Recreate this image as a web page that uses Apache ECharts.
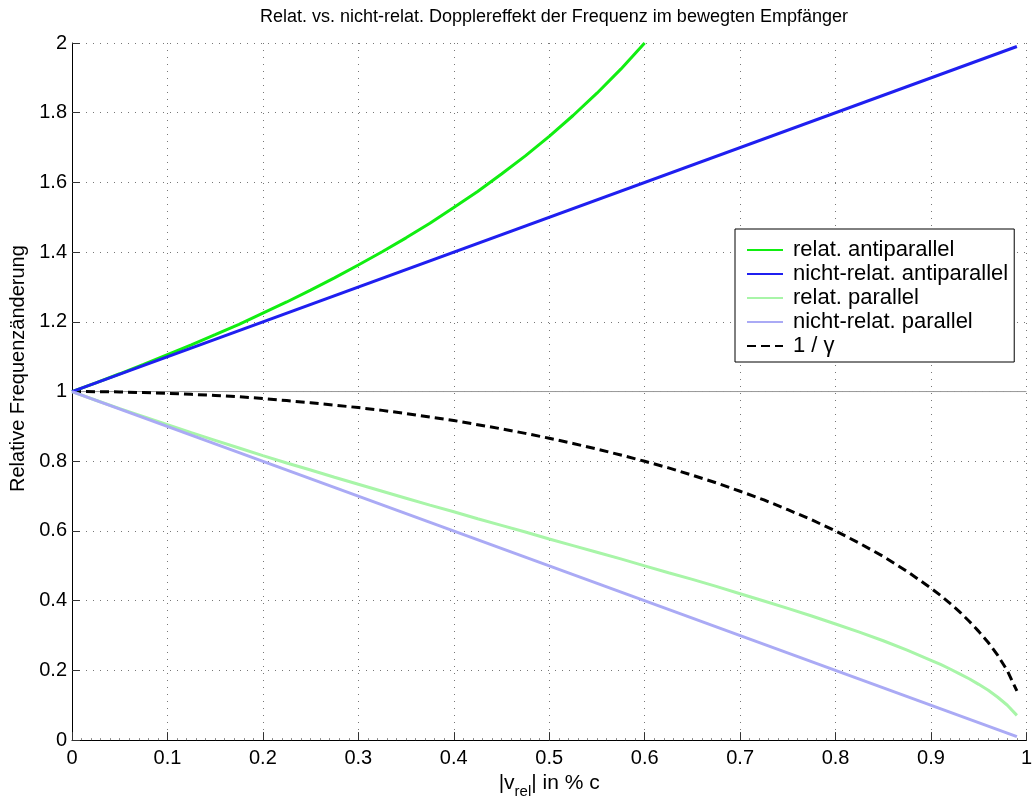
<!DOCTYPE html>
<html>
<head>
<meta charset="utf-8">
<script src="https://cdn.jsdelivr.net/npm/echarts@6/dist/echarts.min.js"></script>
<style>
  html, body { margin: 0; padding: 0; background: #fff; }
  #chart { width: 1035px; height: 804px; }
</style>
</head>
<body>
<div id="chart"></div>
<script>
// values (beta = |v_rel| / c)
const beta = [0, 0.025, 0.05, 0.075, 0.1, 0.125, 0.15, 0.175, 0.2, 0.225, 0.25, 0.275, 0.3,
  0.325, 0.35, 0.375, 0.4, 0.425, 0.45, 0.475, 0.5, 0.525, 0.55, 0.575, 0.6,
  0.625, 0.65, 0.675, 0.7, 0.725, 0.75, 0.775, 0.8, 0.825, 0.85, 0.875, 0.9,
  0.91, 0.92, 0.93, 0.94, 0.95, 0.96, 0.97, 0.98, 0.99];

const relAnti = [1, 1.025, 1.051, 1.078, 1.106, 1.134, 1.163, 1.193, 1.225, 1.257, 1.291, 1.326, 1.363,
  1.401, 1.441, 1.483, 1.528, 1.574, 1.624, 1.676, 1.732, 1.792, 1.856, 1.925, 2.0];

const relPar = [1, 0.975, 0.951, 0.928, 0.905, 0.882, 0.860, 0.838, 0.816, 0.795, 0.775, 0.754, 0.734,
  0.714, 0.694, 0.674, 0.655, 0.635, 0.616, 0.597, 0.577, 0.558, 0.539, 0.520, 0.5,
  0.480, 0.461, 0.441, 0.420, 0.399, 0.378, 0.356, 0.333, 0.310, 0.285, 0.258, 0.229,
  0.217, 0.204, 0.190, 0.176, 0.160, 0.143, 0.123, 0.100, 0.071];

const invGamma = [1, 0.9997, 0.999, 0.997, 0.995, 0.992, 0.989, 0.985, 0.980, 0.974, 0.968, 0.961, 0.954,
  0.946, 0.937, 0.927, 0.917, 0.905, 0.893, 0.880, 0.866, 0.851, 0.835, 0.818, 0.8,
  0.781, 0.760, 0.738, 0.714, 0.689, 0.661, 0.632, 0.6, 0.565, 0.527, 0.484, 0.436,
  0.415, 0.392, 0.368, 0.341, 0.312, 0.280, 0.243, 0.199, 0.141];

const betaNonRel = [0, 0.99];
const nonRelAnti = [1, 1.99];
const nonRelPar = [1, 0.01];

const refX = [0, 1];
const refY = [1, 1];

const xTicks = ['0', '0.1', '0.2', '0.3', '0.4', '0.5', '0.6', '0.7', '0.8', '0.9', '1'];
const yTicks = ['0', '0.2', '0.4', '0.6', '0.8', '1', '1.2', '1.4', '1.6', '1.8', '2'];

const seriesNames = ['relat. antiparallel', 'nicht-relat. antiparallel', 'relat. parallel', 'nicht-relat. parallel', '1 / \u03b3'];

function zip(xs, ys) {
  return ys.map((y, i) => [xs[i], y]);
}

const font = "'Liberation Sans', Arial, Helvetica, sans-serif";
const chart = echarts.init(document.getElementById('chart'));

const option = {
  animation: false,
  backgroundColor: '#fff',
  textStyle: { fontFamily: font },
  title: {
    text: 'Relat. vs. nicht-relat. Dopplereffekt der Frequenz im bewegten Empfänger',
    left: 549,
    textAlign: 'center',
    top: 3,
    textStyle: { fontFamily: font, fontSize: 18, fontWeight: 'normal', color: '#000' }
  },
  grid: { left: 72, right: 0, top: 43, bottom: 59, containLabel: false },
  legend: {
    orient: 'vertical',
    left: 735,
    top: 229,
    data: seriesNames,
    itemWidth: 36,
    itemHeight: 14,
    itemGap: 2,
    padding: [10, 6, 5, 11],
    borderColor: '#000',
    borderWidth: 1,
    backgroundColor: '#fff',
    itemStyle: { opacity: 0 },
    textStyle: { fontFamily: font, fontSize: 22, color: '#000', padding: [0, 0, 0, 5] }
  },
  xAxis: {
    type: 'value',
    min: 0,
    max: 1,
    interval: 0.1,
    name: '|v{sub|rel}| in % c',
    nameLocation: 'middle',
    nameGap: 26,
    nameTextStyle: {
      fontFamily: font, fontSize: 21, color: '#000', verticalAlign: 'top',
      rich: { sub: { fontFamily: font, fontSize: 15, color: '#000', verticalAlign: 'bottom', padding: [16, 0, 0, 0] } }
    },
    axisLine: { show: true, onZero: false, lineStyle: { color: '#000', width: 1 } },
    axisTick: { show: true, inside: true, length: 8, lineStyle: { color: '#333' } },
    minorTick: { show: true, splitNumber: 10, length: 2, lineStyle: { color: '#888' } },
    axisLabel: {
      margin: 8, fontFamily: font, fontSize: 20, color: '#000',
      formatter: v => xTicks[Math.round(v * 10)]
    },
    splitLine: { show: true, lineStyle: { color: '#777', type: [1, 6], width: 1 } }
  },
  yAxis: {
    type: 'value',
    min: 0,
    max: 2,
    interval: 0.2,
    name: 'Relative Frequenzänderung',
    nameLocation: 'middle',
    nameGap: 44,
    nameTextStyle: { fontFamily: font, fontSize: 20, color: '#000', padding: [0, 0, 0, 46] },
    axisLine: { show: true, onZero: false, lineStyle: { color: '#000', width: 1 } },
    axisTick: { show: true, inside: true, length: 8, lineStyle: { color: '#333' } },
    axisLabel: {
      margin: 5, fontFamily: font, fontSize: 20, color: '#000',
      formatter: v => yTicks[Math.round(v * 5)]
    },
    splitLine: { show: true, lineStyle: { color: '#777', type: [1, 6], width: 1 } }
  },
  series: [
    {
      name: 'ref',
      type: 'line',
      data: zip(refX, refY),
      symbol: 'none',
      silent: true,
      lineStyle: { color: '#999', width: 1 },
      z: 1
    },
    {
      name: seriesNames[0],
      type: 'line',
      data: zip(beta, relAnti),
      symbol: 'none',
      color: '#11ee11',
      lineStyle: { color: '#11ee11', width: 3 },
      z: 3
    },
    {
      name: seriesNames[1],
      type: 'line',
      data: zip(betaNonRel, nonRelAnti),
      symbol: 'none',
      color: '#1f1ff0',
      lineStyle: { color: '#1f1ff0', width: 3 },
      z: 4
    },
    {
      name: seriesNames[2],
      type: 'line',
      data: zip(beta, relPar),
      symbol: 'none',
      color: '#a8f5a8',
      lineStyle: { color: '#a8f5a8', width: 3 },
      z: 3
    },
    {
      name: seriesNames[3],
      type: 'line',
      data: zip(betaNonRel, nonRelPar),
      symbol: 'none',
      color: '#aaaaf5',
      lineStyle: { color: '#aaaaf5', width: 3 },
      z: 4
    },
    {
      name: seriesNames[4],
      type: 'line',
      data: zip(beta, invGamma),
      symbol: 'none',
      color: '#000',
      lineStyle: { color: '#000', width: 3, type: [9, 5] },
      z: 2
    }
  ]
};

chart.setOption(option);
window.addEventListener('resize', () => chart.resize());
</script>
</body>
</html>
